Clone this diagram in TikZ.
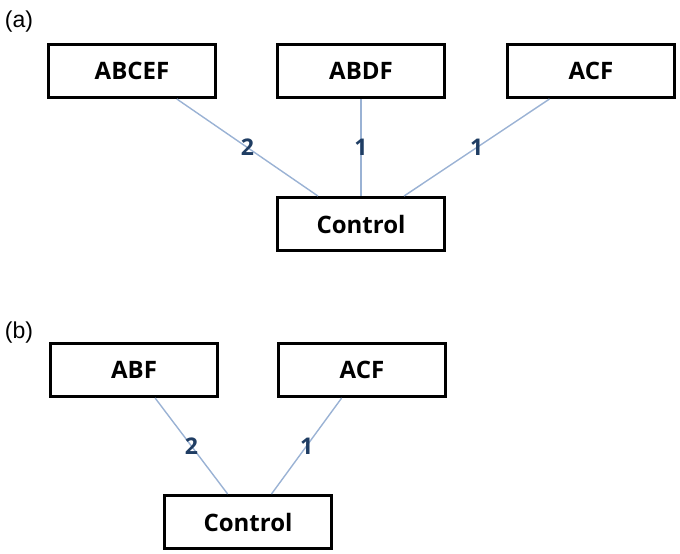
\documentclass[tikz,border=0pt]{standalone}
\usepackage{fontspec}
\usepackage{tikz}
\newfontfamily\boxfont{Open Sans}
\newfontfamily\tagfont{Liberation Sans}
\definecolor{linkblue}{HTML}{9AB2D4}
\definecolor{countblue}{HTML}{1F3D63}
\tikzset{
    groupbox/.style={draw, line width=3pt, minimum width=167pt, minimum height=53pt,
            inner sep=0pt, font=\boxfont\bfseries\fontsize{24}{27}\selectfont},
    link/.style={draw=linkblue, line width=1.4pt},
    count/.style={text=countblue, font=\boxfont\bfseries\fontsize{23}{25}\selectfont},
    panel/.style={font=\tagfont\fontsize{23}{26}\selectfont},
}

\begin{document}
\begin{tikzpicture}[x=1pt, y=-1pt]
        \useasboundingbox (0, 0) rectangle (680, 554);
        %panel labels
        \node[panel] (taga) at (19, 22) {(a)};
        \node[panel] (tagb) at (19, 333) {(b)};
        %draw boxes of panel (a)
        \node[groupbox] (abcef) at (132, 71) {ABCEF};
        \node[groupbox] (abdf) at (361, 71) {ABDF};
        \node[groupbox] (acfa) at (591, 71) {ACF};
        \node[groupbox] (ctrla) at (361, 224) {Control};
        %draw boxes of panel (b)
        \node[groupbox] (abf) at (134, 370) {ABF};
        \node[groupbox] (acfb) at (362, 370) {ACF};
        \node[groupbox] (ctrlb) at (248, 522) {Control};
        %connect panel (a)
        \path[link] (abcef.-32) -- node[count] {2} (ctrla.147);
        \path[link] (abdf.south) -- node[count] {1} (ctrla.north);
        \path[link] (acfa.-146) -- node[count] {1} (ctrla.33);
        %connect panel (b)
        \path[link] (abf.-53) -- node[count] {2} (ctrlb.126);
        \path[link] (acfb.-126) -- node[count] {1} (ctrlb.50);
    \end{tikzpicture}
\end{document}
